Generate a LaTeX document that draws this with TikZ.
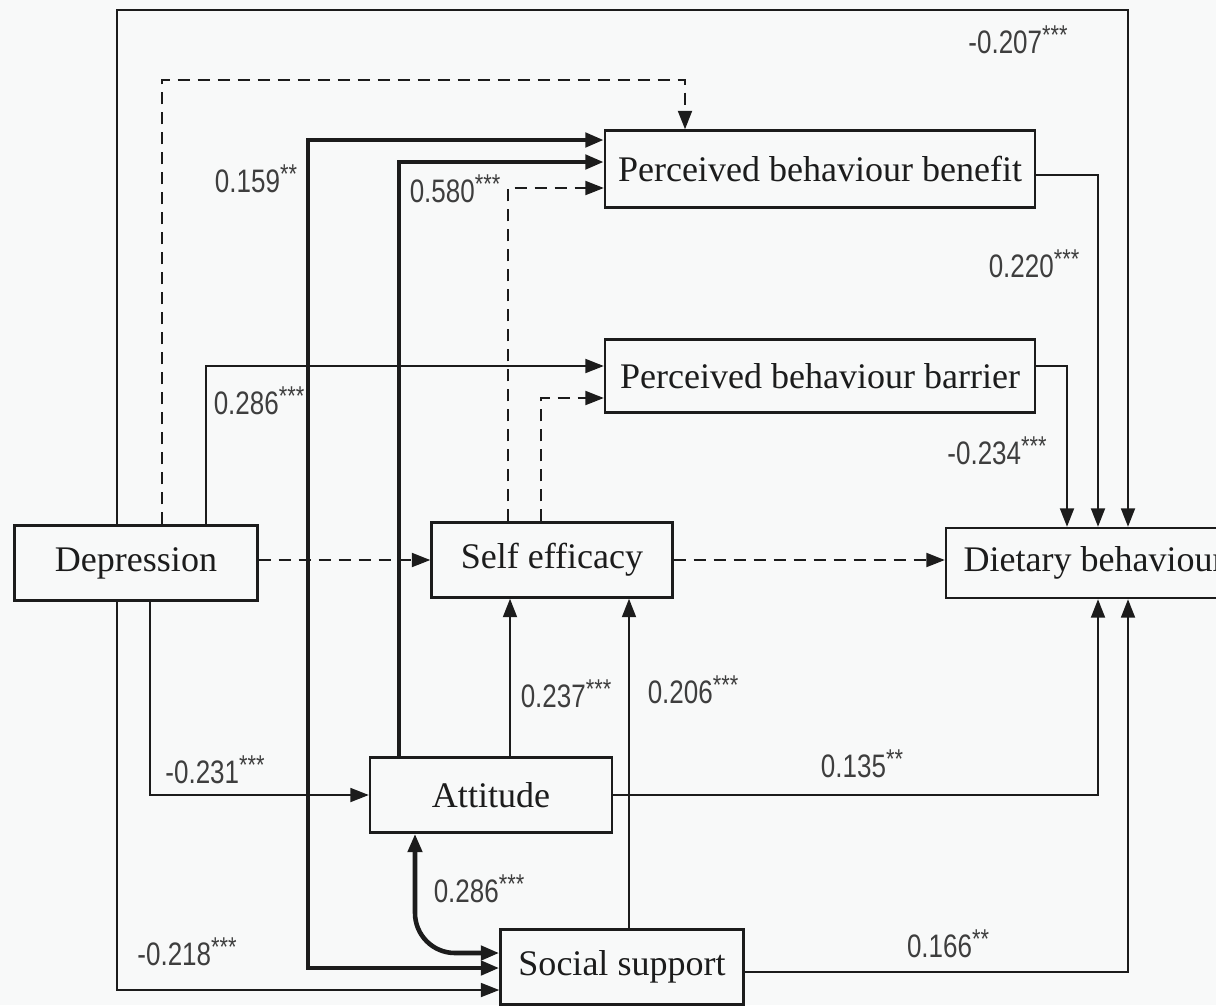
\documentclass[tikz,border=0pt]{standalone}
\usepackage{fontspec}
\setmainfont{Liberation Serif}
\newfontfamily\coeffont[FakeStretch=0.8]{Liberation Sans}
\usetikzlibrary{arrows.meta}
\definecolor{pagebg}{RGB}{248,249,249}
\definecolor{ink}{RGB}{28,28,28}
\newcommand{\stars}[1]{\raisebox{0.28em}{\fontsize{15.5}{15.5}\selectfont #1}}

\begin{document}
\begin{tikzpicture}[x=0.02cm,y=-0.02cm,>={Triangle[length=0.37cm,width=0.28cm]},
		box/.style={draw=ink,line width=1.4pt,minimum height=1.5cm,font=\fontsize{20.5}{24}\selectfont,text=ink},
		link/.style={ink,line width=1.1pt},
		heavy/.style={ink,line width=2.6pt},
		indirect/.style={ink,line width=1.2pt,dash pattern=on 0.25cm off 0.15cm},
		coef/.style={font=\coeffont\fontsize{18.5}{20}\selectfont,text=ink!85}]
		\path[use as bounding box,fill=pagebg] (0,0) rectangle (1216,1005);
		\draw (136,563) node[box,minimum width=4.86cm](dep) {Depression};
		\draw (552,560) node[box,minimum width=4.82cm](se) {Self efficacy};
		\draw (820,169) node[box,minimum width=8.6cm,minimum height=1.54cm](pbb) {Perceived behaviour benefit};
		\draw (820,376) node[box,minimum width=8.6cm,minimum height=1.46cm](pbr) {Perceived behaviour barrier};
		\draw (1094,563) node[box,minimum width=5.92cm,minimum height=1.4cm](diet) {Dietary behaviour};
		\draw (491,795) node[box,minimum width=4.84cm](att) {Attitude};
		\draw (622,967) node[box,minimum width=4.86cm](ss) {Social support};
		\draw[link,->] (dep.north -| 117,0) |- (1128,10) -- (diet.north -| 1128,0);
		\draw[indirect,->] (dep.north -| 162,0) |- (685,80) -- (pbb.north -| 685,0);
		\draw[link,->] (dep.north -| 206,0) |- (pbr.west |- 0,366);
		\draw[heavy,<->] (pbb.west |- 0,140) -| (308,968) -- (ss.west |- 0,968);
		\draw[heavy,->] (att.north -| 399,0) |- (pbb.west |- 0,162);
		\draw[indirect,->] (se.north -| 508,0) |- (pbb.west |- 0,188);
		\draw[indirect,->] (se.north -| 541,0) |- (pbr.west |- 0,398);
		\draw[link,->] (pbb.east |- 0,175) -| (diet.north -| 1098,0);
		\draw[link,->] (pbr.east |- 0,366) -| (diet.north -| 1067,0);
		\draw[indirect,->] (dep.east |- se.west) -- (se.west);
		\draw[indirect,->] (se.east) -- (se.east -| diet.west);
		\draw[link,->] (dep.south -| 150,0) |- (att.west);
		\draw[link,->] (dep.south -| 117,0) |- (ss.west |- 0,990);
		\draw[link,->] (att.north -| 510,0) -- (se.south -| 510,0);
		\draw[link,->] (ss.north -| 629,0) -- (se.south -| 629,0);
		\draw[link,->] (att.east) -| (diet.south -| 1098,0);
		\draw[link,->] (ss.east |- 0,972) -| (diet.south -| 1128,0);
		\draw[heavy,<->,rounded corners=0.8cm] (att.south -| 415,0) |- (ss.west |- 0,953);
		\node[coef] (k1) at (1018,40) {-0.207\stars{***}};
		\node[coef] (k2) at (256,179) {0.159\stars{**}};
		\node[coef] (k3) at (455,189) {0.580\stars{***}};
		\node[coef] (k4) at (1034,264) {0.220\stars{***}};
		\node[coef] (k5) at (259,401) {0.286\stars{***}};
		\node[coef] (k6) at (997,451) {-0.234\stars{***}};
		\node[coef] (k7) at (566,694) {0.237\stars{***}};
		\node[coef] (k8) at (693,690) {0.206\stars{***}};
		\node[coef] (k9) at (215,770) {-0.231\stars{***}};
		\node[coef] (k10) at (862,764) {0.135\stars{**}};
		\node[coef] (k11) at (479,889) {0.286\stars{***}};
		\node[coef] (k12) at (187,952) {-0.218\stars{***}};
		\node[coef] (k13) at (948,944) {0.166\stars{**}};
	\end{tikzpicture}
\end{document}
